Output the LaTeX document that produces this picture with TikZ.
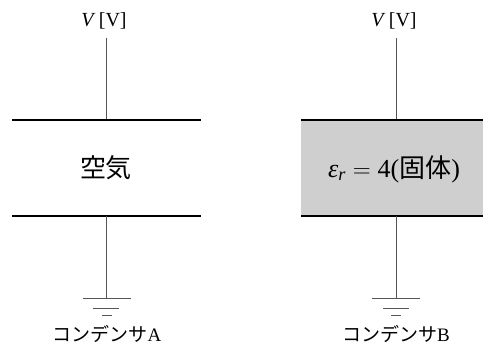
\documentclass[tikz,border=0pt]{standalone}
\usepackage{amsmath}
\usepackage{fontspec}
\setmainfont{Liberation Serif}
\newfontfamily\jp{Noto Sans CJK JP}
\definecolor{diel}{HTML}{D0CFD0}
\definecolor{wire}{HTML}{555555}
\tikzset{
  plate/.style={line width=2.2pt, black},
  wireline/.style={line width=0.9pt, wire},
  gnd/.style={line width=1pt, wire},
  vlbl/.style={inner sep=0pt, font=\fontsize{20}{22}\selectfont},
  lbl/.style={inner sep=0pt, font=\fontsize{19}{21}\selectfont},
}
\begin{document}
\begin{tikzpicture}[x=1pt,y=-1pt]
\useasboundingbox (0,0) rectangle (483,345);
% Capacitor A
\node[vlbl] (va) at (104,21) {\textit{V}\,[V]};
\coordinate (atopw) at (106,38);
\coordinate (atop) at (106,120);
\coordinate (abot) at (106,216);
\coordinate (ag) at (106,298);
\draw[wireline] (atopw) -- (atop);
\draw[plate] (12,120) -- (201,120);
\draw[plate] (12,216) -- (201,216);
\node[inner sep=0pt, font=\jp\fontsize{26}{28}\selectfont] (air) at (106,168) {空気};
\draw[wireline] (abot) -- (ag);
\draw[gnd] (83,298) -- (131,298);
\draw[gnd] (93,308) -- (119,308);
\draw[gnd] (102,315) -- (112,315);
\node[lbl] (la) at (107,334) {{\jp コンデンサ}A};
% Capacitor B
\fill[diel] (301,120) rectangle (483,216);
\node[vlbl] (vb) at (394,21) {\textit{V}\,[V]};
\coordinate (btopw) at (396,38);
\coordinate (btop) at (396,120);
\coordinate (bbot) at (396,216);
\coordinate (bg) at (396,298);
\draw[wireline] (btopw) -- (btop);
\draw[plate] (301,120) -- (483,120);
\draw[plate] (301,216) -- (483,216);
\node[inner sep=0pt, font=\fontsize{26}{28}\selectfont] (eps) at (394,169)
  {$\text{\itshape ε}_{\text{\itshape r}} = \text{4(}\text{\jp 固体}\text{)}$};
\draw[wireline] (bbot) -- (bg);
\draw[gnd] (372,298) -- (420,298);
\draw[gnd] (383,308) -- (409,308);
\draw[gnd] (391,315) -- (401,315);
\node[lbl] (lb) at (396,334) {{\jp コンデンサ}B};
\end{tikzpicture}
\end{document}
